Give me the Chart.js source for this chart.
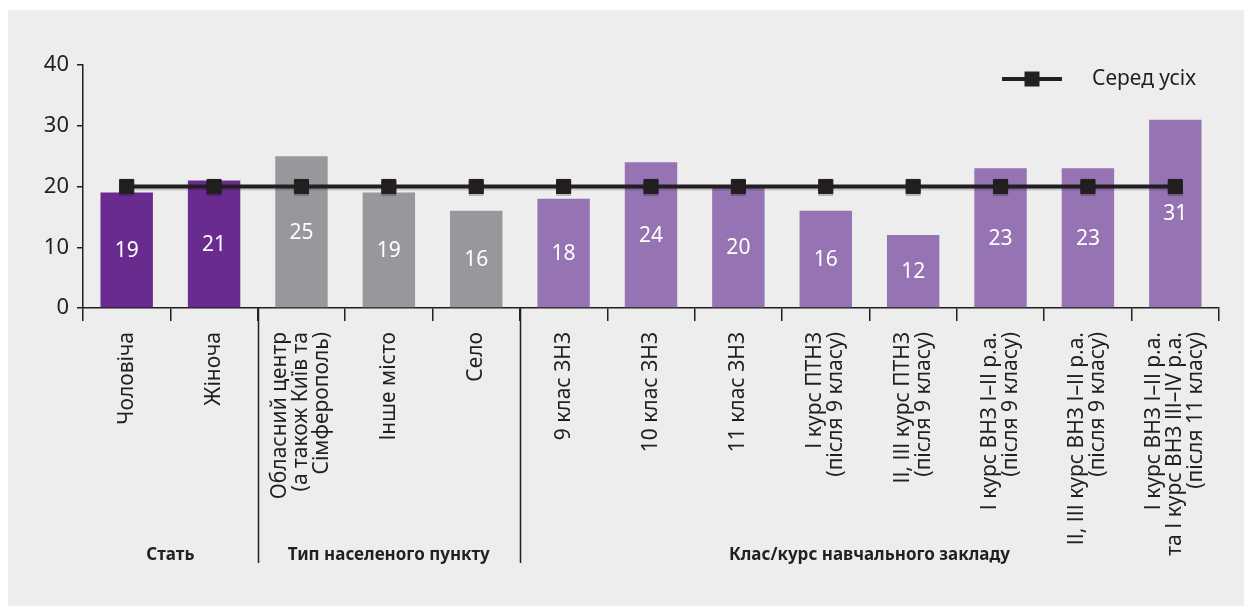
<!DOCTYPE html>
<html lang="uk">
<head>
<meta charset="utf-8">
<script src="https://cdn.jsdelivr.net/npm/chart.js@4.4.1/dist/chart.umd.min.js"></script>
<style>
  html, body { margin: 0; padding: 0; background: #fff; }
  #wrap { width: 1244px; height: 606px; }
</style>
</head>
<body>
<div id="wrap"><canvas id="chart" width="1244" height="606"></canvas></div>
<script>
// --- data ---
const categories = [
  "Чоловіча",
  "Жіноча",
  ["Обласний центр", "(а також Київ та", "Сімферополь)"],
  "Інше місто",
  "Село",
  "9 клас ЗНЗ",
  "10 клас ЗНЗ",
  "11 клас ЗНЗ",
  ["І курс ПТНЗ", "(після 9 класу)"],
  ["ІІ, ІІІ курс ПТНЗ", "(після 9 класу)"],
  ["І курс ВНЗ І–ІІ р.а.", "(після 9 класу)"],
  ["ІІ, ІІІ курс ВНЗ І–ІІ р.а.", "(після 9 класу)"],
  ["І курс ВНЗ І–ІІ р.а.", "та І курс ВНЗ ІІІ–ІV р.а.", "(після 11 класу)"]
];
const values = [19, 21, 25, 19, 16, 18, 24, 20, 16, 12, 23, 23, 31];
const overall = [20, 20, 20, 20, 20, 20, 20, 20, 20, 20, 20, 20, 20];
const overallLabel = "Серед усіх";
const groupNames = ["Стать", "Тип населеного пункту", "Клас/курс навчального закладу"];
const groupSizes = [2, 3, 8];
const yTicks = [0, 10, 20, 30, 40];

// --- styles ---
const FONT = "'Noto Sans', 'Open Sans', sans-serif";
const INK = "#231f20";
const PANEL = "#ededed";
const GROUP_COLORS = ["#692b90", "#97989b", "#9673b2"];

const barColors = [];
groupSizes.forEach((n, g) => { for (let i = 0; i < n; i++) barColors.push(GROUP_COLORS[g]); });

// grey panel behind everything
const panelPlugin = {
  id: "panel",
  beforeDraw(chart) {
    const { ctx, width, height } = chart;
    ctx.save();
    ctx.fillStyle = "#fff";
    ctx.fillRect(0, 0, width, height);
    ctx.fillStyle = PANEL;
    ctx.fillRect(8, 10, width - 8, height - 10);
    ctx.restore();
  }
};

// soft shadow under the average line, value labels inside bars
const marksPlugin = {
  id: "marks",
  beforeDatasetDraw(chart, args) {
    if (args.index !== 1) return;
    const ctx = chart.ctx;
    ctx.save();
    ctx.shadowColor = "rgba(0,0,0,0.16)";
    ctx.shadowOffsetY = 2;
    ctx.shadowBlur = 0;
  },
  afterDatasetDraw(chart, args) {
    const ctx = chart.ctx;
    if (args.index === 1) { ctx.restore(); return; }
    if (args.index !== 0) return;
    const meta = chart.getDatasetMeta(0);
    ctx.save();
    ctx.fillStyle = "#fff";
    ctx.font = "21px " + FONT;
    ctx.textAlign = "center";
    ctx.textBaseline = "middle";
    meta.data.forEach((bar, i) => {
      const v = chart.data.datasets[0].data[i];
      ctx.fillText(String(v), bar.x, (bar.y + bar.base) / 2 + 1);
    });
    ctx.restore();
  }
};

// rotated category labels, group separators and titles, legend
const axisTextPlugin = {
  id: "axisText",
  afterDraw(chart) {
    const { ctx, chartArea } = chart;
    const xs = chart.scales.x;
    const lh = 21;
    const top = chartArea.bottom + 24;

    ctx.save();
    ctx.fillStyle = INK;
    ctx.font = "21px " + FONT;
    ctx.textAlign = "right";
    ctx.textBaseline = "middle";
    categories.forEach((lab, i) => {
      const lines = Array.isArray(lab) ? lab : [lab];
      const x = xs.getPixelForValue(i);
      ctx.save();
      ctx.translate(x, top);
      ctx.rotate(-Math.PI / 2);
      lines.forEach((t, j) => ctx.fillText(t, 0, (j - (lines.length - 1) / 2) * lh));
      ctx.restore();
    });

    // group separators and titles
    const half = (xs.getPixelForValue(1) - xs.getPixelForValue(0)) / 2;
    let start = 0;
    ctx.strokeStyle = INK;
    ctx.lineWidth = 1.5;
    ctx.font = "bold 17px " + FONT;
    ctx.textAlign = "center";
    groupSizes.forEach((n, g) => {
      const x0 = xs.getPixelForValue(start) - half;
      const x1 = xs.getPixelForValue(start + n - 1) + half;
      ctx.fillText(groupNames[g], (x0 + x1) / 2, chartArea.bottom + 247);
      if (g < groupSizes.length - 1) {
        ctx.beginPath();
        ctx.moveTo(Math.round(x1) + 0.5, chartArea.bottom);
        ctx.lineTo(Math.round(x1) + 0.5, chartArea.bottom + 255);
        ctx.stroke();
      }
      start += n;
    });

    // legend: line with square marker
    const ds = chart.data.datasets[1];
    const ly = 79;
    ctx.strokeStyle = ds.borderColor;
    ctx.lineWidth = ds.borderWidth;
    ctx.beginPath();
    ctx.moveTo(1002, ly);
    ctx.lineTo(1062, ly);
    ctx.stroke();
    ctx.fillStyle = ds.pointBackgroundColor;
    ctx.fillRect(1032 - 7.5, ly - 7.5, 15, 15);
    ctx.fillStyle = INK;
    ctx.font = "21px " + FONT;
    ctx.textAlign = "left";
    ctx.fillText(ds.label, 1092, ly);
    ctx.restore();
  }
};

new Chart(document.getElementById("chart"), {
  data: {
    labels: categories,
    datasets: [
      {
        type: "bar",
        label: "",
        data: values,
        backgroundColor: barColors,
        borderWidth: 0,
        barPercentage: 0.6,
        categoryPercentage: 1,
        order: 1
      },
      {
        type: "line",
        label: overallLabel,
        data: overall,
        borderColor: INK,
        borderWidth: 4,
        pointStyle: "rect",
        pointRadius: 10,
        pointBorderWidth: 1,
        pointBackgroundColor: INK,
        pointBorderColor: INK,
        order: 0
      }
    ]
  },
  options: {
    responsive: false,
    animation: false,
    layout: { padding: { left: 8, right: 25, top: 65, bottom: 0 } },
    plugins: {
      legend: { display: false },
      tooltip: { enabled: false }
    },
    scales: {
      x: {
        offset: true,
        grid: { drawOnChartArea: false, drawTicks: true, tickLength: 13, color: INK, lineWidth: 1.5, offset: true },
        border: { color: INK, width: 1.5 },
        ticks: { display: false },
        afterFit: (s) => { s.height = 298; }
      },
      y: {
        min: yTicks[0],
        max: yTicks[yTicks.length - 1],
        grid: { drawOnChartArea: false, drawTicks: true, tickLength: 6, color: INK, lineWidth: 1.5 },
        border: { color: INK, width: 1.5 },
        ticks: {
          stepSize: yTicks[1] - yTicks[0],
          color: INK,
          padding: 8,
          font: { family: FONT, size: 22 }
        },
        afterFit: (s) => { s.width = 75; }
      }
    }
  },
  plugins: [panelPlugin, marksPlugin, axisTextPlugin]
});
</script>
</body>
</html>
